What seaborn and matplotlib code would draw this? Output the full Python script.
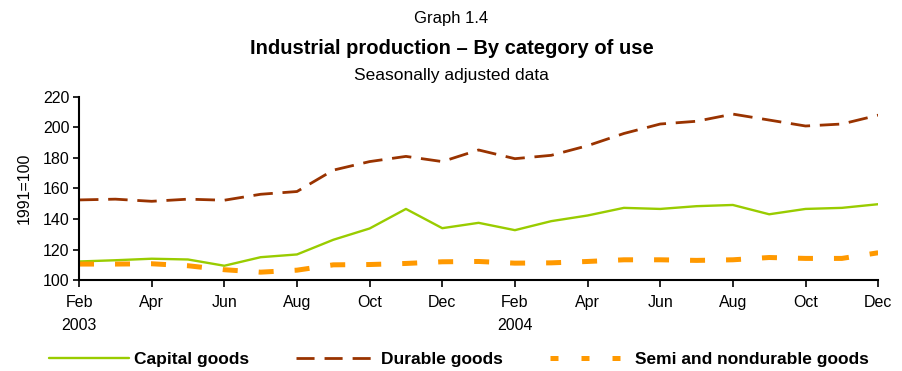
import matplotlib
matplotlib.use("Agg")
import matplotlib.pyplot as plt
import seaborn as sns
import pandas as pd
from matplotlib.lines import Line2D

sns.set_theme(style="white", rc={"text.color": "black", "axes.labelcolor": "black",
                                 "xtick.color": "black", "ytick.color": "black"})
plt.rcParams["font.family"] = ["Liberation Sans", "DejaVu Sans"]

# Monthly index values, Feb 2003 - Dec 2004
months = ["Feb 2003", "Mar 2003", "Apr 2003", "May 2003", "Jun 2003", "Jul 2003",
          "Aug 2003", "Sep 2003", "Oct 2003", "Nov 2003", "Dec 2003", "Jan 2004",
          "Feb 2004", "Mar 2004", "Apr 2004", "May 2004", "Jun 2004", "Jul 2004",
          "Aug 2004", "Sep 2004", "Oct 2004", "Nov 2004", "Dec 2004"]
capital = [112.2, 113.0, 114.0, 113.5, 109.4, 115.0, 116.8, 126.4, 133.8, 146.6,
           134.0, 137.5, 132.7, 138.6, 142.3, 147.3, 146.6, 148.4, 149.2, 143.1,
           146.6, 147.3, 149.7]
durable = [152.5, 153.0, 151.6, 153.0, 152.3, 156.2, 158.0, 172.0, 177.6, 181.0,
           177.6, 185.2, 179.5, 181.7, 188.0, 196.0, 202.2, 204.0, 208.7, 204.8,
           200.9, 202.2, 208.0]
semi = [110.5, 110.5, 110.7, 109.4, 106.8, 105.2, 106.5, 110.0, 110.2, 110.9,
        112.0, 112.2, 111.1, 111.3, 112.2, 113.3, 113.3, 112.9, 113.3, 114.8,
        114.2, 114.2, 117.9]
tick_labels = ["Feb\n2003", "Apr", "Jun", "Aug", "Oct", "Dec",
               "Feb\n2004", "Apr", "Jun", "Aug", "Oct", "Dec"]

series_names = ["Capital goods", "Durable goods", "Semi and nondurable goods"]
colors = ["#99CC00", "#993300", "#FF9900"]
widths = [1.7, 2.0, 3.6]
line_dashes = [None, (7, 3.5), (3.0, 4.2)]
legend_dashes = [None, (6.5, 3.6), (1.6, 4.6)]

df = pd.DataFrame({
    "t": list(range(len(months))) * 3,
    "value": capital + durable + semi,
    "series": [series_names[0]] * len(months) + [series_names[1]] * len(months)
              + [series_names[2]] * len(months),
})

fig = plt.figure(figsize=(9.03, 3.71), dpi=100)
ax = fig.add_axes([0.0875, 0.245, 0.885, 0.494])

handles = []
for name, c, lw, d, ld in zip(series_names, colors, widths, line_dashes,
                              legend_dashes):
    sub = df[df["series"] == name]
    sns.lineplot(data=sub, x="t", y="value", ax=ax, color=c, linewidth=lw,
                 legend=False)
    line = ax.get_lines()[-1]
    line.set_solid_capstyle("butt")
    line.set_dash_capstyle("butt")
    if d is not None:
        line.set_dashes(d)
    h = Line2D([], [], color=c, linewidth=lw, dash_capstyle="butt")
    if ld is not None:
        h.set_dashes(ld)
    handles.append(h)

ax.set_xlim(0, len(months) - 1)
ax.set_ylim(100, 220)
ax.set_yticks(range(100, 221, 20))
ax.set_xticks(range(0, len(months), 2))
ax.set_xticklabels(tick_labels, fontsize=11.5)
ax.tick_params(axis="y", labelsize=11.5, length=4, width=1.2, color="black",
               direction="out", left=True, pad=3)
ax.tick_params(axis="x", length=5, width=1.2, color="black", direction="out",
               bottom=True, pad=6)
for lab in ax.get_xticklabels():
    lab.set_linespacing(1.6)
ax.set_xlabel("")
ax.set_ylabel("1991=100", fontsize=11.5, labelpad=8)
sns.despine(ax=ax)
for s in ("left", "bottom"):
    ax.spines[s].set_color("black")
    ax.spines[s].set_linewidth(1.5)

fig.text(0.5, 0.95, "Graph 1.4", ha="center", va="center", fontsize=12)
fig.text(0.5, 0.87, "Industrial production \u2013 By category of use", ha="center",
         va="center", fontsize=14.5, fontweight="bold")
fig.text(0.5, 0.797, "Seasonally adjusted data", ha="center", va="center",
         fontsize=12.5)

fig.legend(handles, series_names, loc="center", bbox_to_anchor=(0.508, 0.032),
           ncol=3, frameon=False, handlelength=4.6, handletextpad=0.3,
           columnspacing=2.7, prop={"weight": "bold", "size": 12.5})

fig.savefig("out.png", dpi=100)
